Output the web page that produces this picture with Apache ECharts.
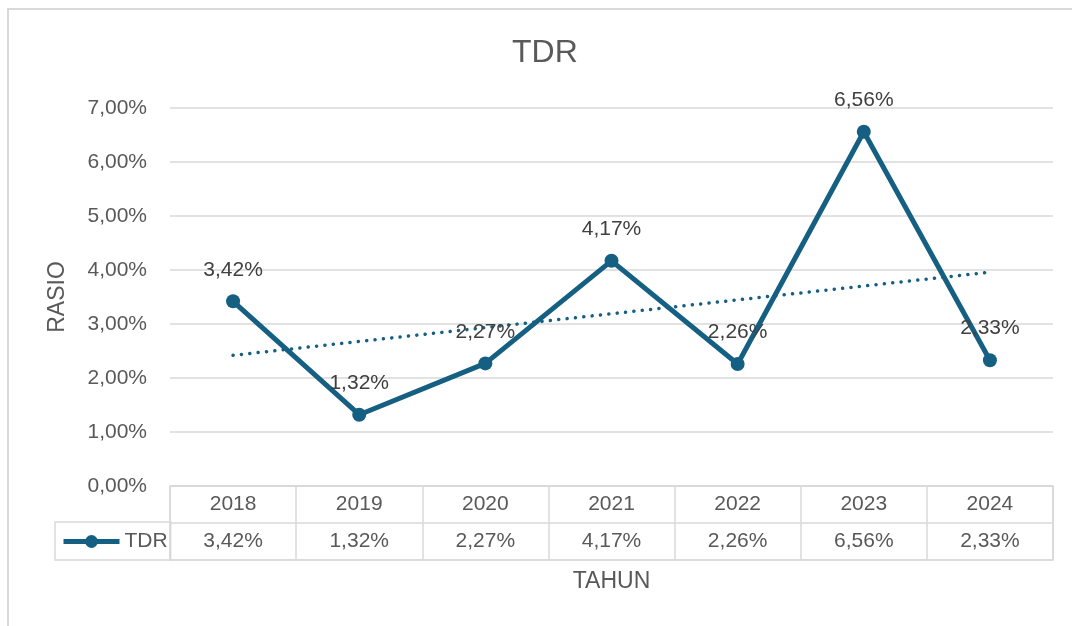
<html>
<head>
<meta charset="utf-8">
<title>TDR</title>
<script src="https://cdn.jsdelivr.net/npm/echarts@6/dist/echarts.min.js"></script>
<style>
    html, body { margin: 0; padding: 0; background: #fff; }
    #chart { width: 1072px; height: 626px; }
</style>
</head>
<body>
<div id="chart"></div>
<script type="text/javascript">
    // data
    var years = ['2018', '2019', '2020', '2021', '2022', '2023', '2024'];
    var tdrValues = [3.42, 1.32, 2.27, 4.17, 2.26, 6.56, 2.33];
    // linear trendline, ends
    var trendValues = [2.42, null, null, null, null, null, 3.96];
    var yTicks = { min: 0, max: 7, interval: 1 };

    var lineColor = '#156082';
    var textColor = '#595959';
    var gridColor = '#d9d9d9';
    var fontFamily = 'Liberation Sans, Arial, sans-serif';

    function pct(v) {
        return Number(v).toFixed(2).replace('.', ',') + '%';
    }

    var yearCells = [];
    var valueCells = [];
    for (var i = 0; i < years.length; i++) {
        yearCells.push({ value: [years[i], 'year'], name: years[i] });
        valueCells.push({ value: [years[i], 'val'], name: pct(tdrValues[i]) });
    }

    var myChart = echarts.init(document.getElementById('chart'));

    var cellLabel = {
        show: true,
        position: 'inside',
        fontSize: 21,
        color: textColor,
        fontFamily: fontFamily,
        formatter: function (p) { return p.name; }
    };

    var option = {
        backgroundColor: '#ffffff',
        animation: false,
        textStyle: { fontFamily: fontFamily },
        title: {
            text: 'TDR',
            left: 512,
            top: 37,
            padding: 0,
            textStyle: { fontSize: 32, fontWeight: 'normal', color: textColor, fontFamily: fontFamily }
        },
        graphic: [
            {
                type: 'rect',
                silent: true,
                shape: { x: 8, y: 9, width: 2000, height: 2000 },
                style: { fill: 'none', stroke: gridColor, lineWidth: 2 }
            }
        ],
        legend: {
            data: ['TDR'],
            left: 55,
            top: 522,
            orient: 'horizontal',
            padding: [9, 3, 8, 6],
            itemWidth: 56,
            itemHeight: 16,
            borderColor: gridColor,
            borderWidth: 1.5,
            selectedMode: false,
            lineStyle: { width: 5 },
            textStyle: { fontSize: 21, color: textColor, fontFamily: fontFamily }
        },
        grid: [
            { left: 170, right: 19, top: 108, height: 378 },
            { left: 170, right: 19, top: 486, height: 74, show: true, borderColor: gridColor, borderWidth: 1.5 }
        ],
        xAxis: [
            {
                gridIndex: 0,
                type: 'category',
                data: years,
                boundaryGap: true,
                axisLine: { show: false },
                axisTick: { show: false },
                axisLabel: { show: false }
            },
            {
                gridIndex: 1,
                type: 'category',
                data: years,
                boundaryGap: true,
                axisLine: { show: false },
                axisTick: { show: false },
                axisLabel: { show: false },
                splitLine: { show: true, lineStyle: { color: gridColor, width: 1.5 } },
                name: 'TAHUN',
                nameLocation: 'middle',
                nameGap: 10,
                nameTextStyle: { fontSize: 23, color: textColor, fontFamily: fontFamily }
            }
        ],
        yAxis: [
            {
                gridIndex: 0,
                type: 'value',
                min: yTicks.min,
                max: yTicks.max,
                interval: yTicks.interval,
                axisLine: { show: false },
                axisTick: { show: false },
                axisLabel: {
                    margin: 23,
                    fontSize: 21,
                    color: textColor,
                    fontFamily: fontFamily,
                    formatter: function (v) { return pct(v); }
                },
                splitLine: { lineStyle: { color: gridColor, width: 1.5 } },
                name: 'RASIO',
                nameLocation: 'middle',
                nameGap: 101,
                nameTextStyle: { fontSize: 23, color: textColor, fontFamily: fontFamily }
            },
            {
                gridIndex: 1,
                type: 'category',
                data: ['val', 'year'],
                boundaryGap: true,
                axisLine: { show: false },
                axisTick: { show: false },
                axisLabel: { show: false },
                splitLine: { show: true, lineStyle: { color: gridColor, width: 1.5 } }
            }
        ],
        series: [
            {
                name: 'Linear (TDR)',
                type: 'line',
                xAxisIndex: 0,
                yAxisIndex: 0,
                data: trendValues,
                connectNulls: true,
                symbol: 'none',
                silent: true,
                z: 1,
                lineStyle: { color: lineColor, width: 3.5, type: [0.1, 8.3], cap: 'round' }
            },
            {
                name: 'TDR',
                type: 'line',
                xAxisIndex: 0,
                yAxisIndex: 0,
                data: tdrValues,
                symbol: 'circle',
                symbolSize: 14,
                z: 2,
                itemStyle: { color: lineColor },
                lineStyle: { color: lineColor, width: 5 },
                label: {
                    show: true,
                    position: 'top',
                    distance: 14,
                    fontSize: 21,
                    color: '#404040',
                    fontFamily: fontFamily,
                    formatter: function (p) { return pct(p.value); }
                }
            },
            {
                name: 'tableYears',
                type: 'scatter',
                xAxisIndex: 1,
                yAxisIndex: 1,
                data: yearCells,
                symbolSize: 1,
                silent: true,
                itemStyle: { color: 'transparent', opacity: 1 },
                label: cellLabel
            },
            {
                name: 'tableValues',
                type: 'scatter',
                xAxisIndex: 1,
                yAxisIndex: 1,
                data: valueCells,
                symbolSize: 1,
                silent: true,
                itemStyle: { color: 'transparent', opacity: 1 },
                label: cellLabel
            }
        ]
    };

    if (option && typeof option === "object") {
        myChart.setOption(option, true);
    }
</script>
</body>
</html>
